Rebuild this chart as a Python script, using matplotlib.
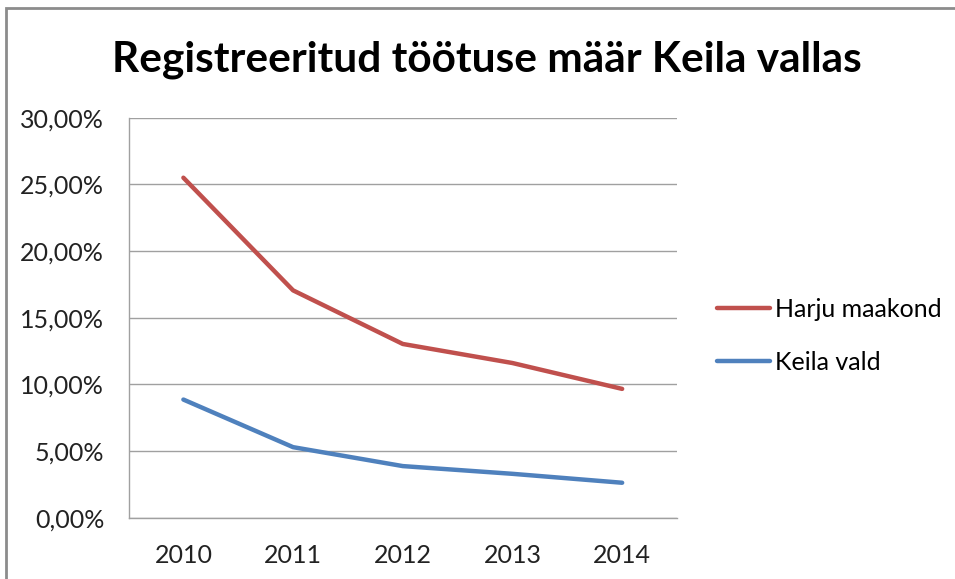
import matplotlib
matplotlib.use("Agg")
import matplotlib.pyplot as plt
from matplotlib.ticker import FuncFormatter
from matplotlib.patches import Rectangle

# andmed (loetud pildilt)
aastad = ["2010", "2011", "2012", "2013", "2014"]
harju = [25.5, 17.05, 13.03, 11.6, 9.66]
keila = [8.86, 5.29, 3.87, 3.29, 2.62]
seeria_nimed = ["Harju maakond", "Keila vald"]
pealkiri = "Registreeritud töötuse määr Keila vallas"

plt.rcParams['font.family'] = ['Lato', 'DejaVu Sans']

fig = plt.figure(figsize=(9.55, 5.79), dpi=100)
ax = fig.add_axes([0.1346, 0.1059, 0.5743, 0.6908])

# raam ümber diagrammi
fig.patches.append(Rectangle((6/955, -0.1), 1.2, 1.1 - 8/579, transform=fig.transFigure,
                             fill=False, edgecolor='#8c8c8c', linewidth=2))

x = range(len(aastad))
ax.plot(x, harju, color='#C0504D', linewidth=3.2, solid_capstyle='round', label=seeria_nimed[0])
ax.plot(x, keila, color='#4F81BD', linewidth=3.2, solid_capstyle='round', label=seeria_nimed[1])

ax.set_xlim(-0.5, len(aastad) - 0.5)
ax.set_ylim(0, 30)
ax.set_yticks(range(0, 31, 5))
ax.yaxis.set_major_formatter(FuncFormatter(lambda v, p: f"{v:.2f}%".replace('.', ',')))
ax.set_xticks(list(x))
ax.set_xticklabels(aastad)

ax.grid(axis='y', color='#a0a0a0', linewidth=1)
ax.set_axisbelow(True)
for s in ['top', 'right']:
    ax.spines[s].set_visible(False)
for s in ['left', 'bottom']:
    ax.spines[s].set_color('#a0a0a0')
    ax.spines[s].set_linewidth(1)
ax.tick_params(axis='both', length=0, labelsize=18, colors='#222222')
ax.tick_params(axis='y', pad=17.5)
ax.tick_params(axis='x', pad=19)

fig.text(486.5/955, 1 - 60/579, pealkiri, ha='center', va='center',
         fontsize=30.5, fontweight='bold', color='black')

ax.legend(loc='center left', bbox_to_anchor=(717/955, 1 - 336/579),
          bbox_transform=fig.transFigure, frameon=False, fontsize=18,
          handlelength=2.1, handletextpad=0.2, labelspacing=1.2,
          borderpad=0, borderaxespad=0)

fig.savefig("out.png", dpi=100)
